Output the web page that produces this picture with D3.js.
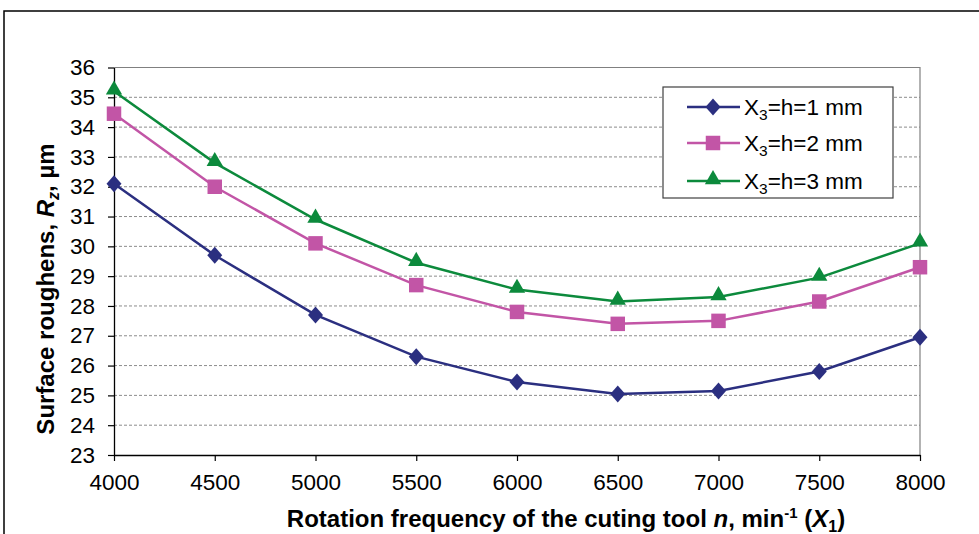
<!DOCTYPE html>
<html><head><meta charset="utf-8">
<script src="https://cdn.jsdelivr.net/npm/d3@7"></script>
<style>body{margin:0;background:#fff}svg{display:block}text{font-family:"Liberation Sans",Arial,sans-serif}</style>
</head><body>
<svg id="c" width="979" height="534"></svg>
<script>
const xValues = [4000,4500,5000,5500,6000,6500,7000,7500,8000];
const series1 = [32.1,29.7,27.7,26.3,25.45,25.05,25.15,25.8,26.95];
const series2 = [34.45,32.0,30.1,28.7,27.8,27.4,27.5,28.15,29.3];
const series3 = [35.2,32.8,30.9,29.45,28.55,28.15,28.3,28.95,30.1];
const seriesNames = ["1","2","3"];
const yTicks = d3.range(23,37,1);

const svg = d3.select("#c");
svg.append("rect").attr("x",4).attr("y",11).attr("width",990).attr("height",540)
  .attr("fill","none").attr("stroke","#000").attr("stroke-width",1.5);

const L=114,R=920,T=67.5,B=455;
const x = d3.scaleLinear().domain([4000,8000]).range([L,R]);
const y = d3.scaleLinear().domain([23,36]).range([B,T]);

svg.append("g").selectAll("line").data(yTicks.filter(d=>d>23&&d<36)).join("line")
  .attr("x1",L).attr("x2",R).attr("y1",d=>y(d)).attr("y2",d=>y(d))
  .attr("stroke","#8c8c8c").attr("stroke-width",1).attr("stroke-dasharray","3,2");
svg.append("path").attr("d",`M${L},${T}H${R}V${B}`).attr("fill","none").attr("stroke","#808080").attr("stroke-width",1.2);

const yAxis = svg.append("g").attr("transform",`translate(${L},0)`)
  .call(d3.axisLeft(y).tickValues(yTicks).tickSize(6).tickSizeOuter(0));
const xAxis = svg.append("g").attr("transform",`translate(0,${B})`)
  .call(d3.axisBottom(x).tickValues(xValues).tickSize(6).tickSizeOuter(0).tickFormat(d3.format("d")));
[yAxis,xAxis].forEach(a=>{
  a.attr("font-size",22.5).attr("font-family","Liberation Sans, Arial, sans-serif");
  a.select(".domain").attr("stroke","#000").attr("stroke-width",1.3);
  a.selectAll(".tick line").attr("stroke","#000").attr("stroke-width",1.2);
  a.selectAll(".tick text").attr("font-size",22.5).attr("fill","#000");
});
yAxis.selectAll(".tick text").attr("x",-19);
xAxis.selectAll(".tick text").attr("y",35).attr("dy",0);

const colors = ["#2b2f80","#c255a6","#0c8a3c"];
const diamond = {draw(ctx,size){ctx.moveTo(0,-8.5);ctx.lineTo(7.5,0);ctx.lineTo(0,8.5);ctx.lineTo(-7.5,0);ctx.closePath();}};
const shapes = [diamond, d3.symbolSquare, d3.symbolTriangle];
const sizes = [1,210,115];
const offs = [0,0,-1.5];
const all = [series1,series2,series3];
const line = d3.line().x((d,i)=>x(xValues[i])).y(d=>y(d));
all.forEach((s,k)=>{
  svg.append("path").datum(s).attr("d",line).attr("fill","none").attr("stroke",colors[k]).attr("stroke-width",2.5);
});
all.forEach((s,k)=>{
  svg.append("g").selectAll("path").data(s).join("path")
    .attr("transform",(d,i)=>`translate(${x(xValues[i])},${y(d)+offs[k]})`)
    .attr("d",d3.symbol().type(shapes[k]).size(sizes[k])).attr("fill",colors[k]);
});

const lg = svg.append("g");
lg.append("rect").attr("x",663).attr("y",87).attr("width",230).attr("height",111)
  .attr("fill","#fff").attr("stroke","#404040").attr("stroke-width",1.2);
const rows=[107,143,181];
seriesNames.forEach((n,k)=>{
  lg.append("line").attr("x1",687).attr("x2",740).attr("y1",rows[k]).attr("y2",rows[k]).attr("stroke",colors[k]).attr("stroke-width",2.5);
  lg.append("path").attr("transform",`translate(713,${rows[k]+offs[k]})`)
    .attr("d",d3.symbol().type(shapes[k]).size(sizes[k])).attr("fill",colors[k]);
  const t = lg.append("text").attr("x",744).attr("y",rows[k]+8).attr("font-size",22.5).attr("fill","#000");
  t.append("tspan").text("X");
  t.append("tspan").attr("font-size",15.5).attr("dy",5).text("3");
  t.append("tspan").attr("dy",-5).text("=h="+n+" mm");
});

const yt = svg.append("text").attr("transform","translate(54,289) rotate(-90)").attr("text-anchor","middle")
  .attr("font-size",24).attr("font-weight","bold").attr("fill","#000");
yt.append("tspan").text("Surface roughens, ");
yt.append("tspan").attr("font-style","italic").text("R");
yt.append("tspan").attr("font-style","italic").attr("font-size",16).attr("dy",5).text("z");
yt.append("tspan").attr("dy",-5).text(", µm");

const xt = svg.append("text").attr("x",566).attr("y",527).attr("text-anchor","middle")
  .attr("font-size",24).attr("font-weight","bold").attr("fill","#000");
xt.append("tspan").text("Rotation frequency of the cuting tool ");
xt.append("tspan").attr("font-style","italic").text("n");
xt.append("tspan").text(", min");
xt.append("tspan").attr("font-size",15).attr("dy",-9).text("-1");
xt.append("tspan").attr("dy",9).text(" (");
xt.append("tspan").attr("font-style","italic").text("X");
xt.append("tspan").attr("font-size",16).attr("dy",5).text("1");
xt.append("tspan").attr("dy",-5).text(")");
</script>
</body></html>
